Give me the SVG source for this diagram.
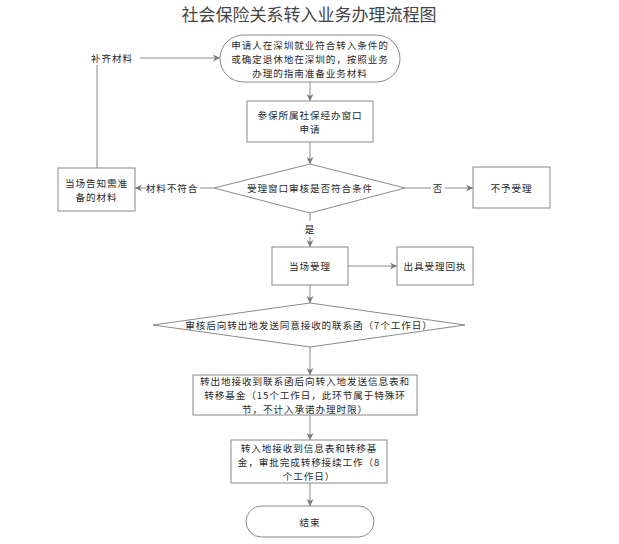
<svg xmlns="http://www.w3.org/2000/svg" width="619" height="544" viewBox="0 0 619 544">
<style>
.n{fill:#fff;stroke:#8a8a8a;stroke-width:1}
.t{font-family:"Noto Sans CJK SC","Liberation Sans",sans-serif;font-size:9.6px;letter-spacing:0.9px;fill:#2a2a2a;text-anchor:middle;dominant-baseline:central}
.title{font-family:"Noto Sans CJK SC","Liberation Sans",sans-serif;font-size:17px;fill:#444;text-anchor:middle;dominant-baseline:central}
.c{fill:none;stroke:#8a8a8a;stroke-width:1}
.a{marker-end:url(#ah)}
</style>
<defs>
<marker id="ah" viewBox="0 0 10 10" refX="10" refY="5" markerWidth="7" markerHeight="7" markerUnits="userSpaceOnUse" orient="auto">
<path d="M0,0 L10,5 L0,10 L3,5 Z" fill="#7a7a7a"/>
</marker>
</defs>
<rect width="619" height="544" fill="#fff"/>
<text class="title" x="309" y="13">社会保险关系转入业务办理流程图</text>

<g id="connectors">
<path class="c" d="M97,168 V65"/>
<path class="c a" d="M140,58 H220"/>
<text class="t" x="112" y="58">补齐材料</text>
<path class="c a" d="M310,82 V101"/>
<path class="c a" d="M310,142 V164"/>
<path class="c" d="M214,188 H200"/>
<path class="c a" d="M146,188 H135"/>
<text class="t" x="172" y="188">材料不符合</text>
<path class="c" d="M405,188 H431"/>
<path class="c a" d="M445,188 H473"/>
<text class="t" x="438" y="188">否</text>
<path class="c" d="M310,213 V221"/>
<path class="c a" d="M310,237 V247"/>
<text class="t" x="310" y="229">是</text>
<path class="c a" d="M348,266 H397"/>
<path class="c a" d="M310,285 V303"/>
<path class="c a" d="M310,347 V375"/>
<path class="c a" d="M310,415 V440"/>
<path class="c a" d="M310,483 V506"/>
</g>

<g id="start">
<rect class="n" x="220" y="35" width="180" height="47" rx="23.5" ry="23.5"/>
<text class="t" x="310" y="44.5">申请人在深圳就业符合转入条件的<tspan x="310" dy="14">或确定退休地在深圳的，按照业务</tspan><tspan x="310" dy="14">办理的指南准备业务材料</tspan></text>
</g>

<g id="apply">
<rect class="n" x="247" y="101" width="126" height="41"/>
<text class="t" x="310" y="115">参保所属社保经办窗口<tspan x="310" dy="14">申请</tspan></text>
</g>

<g id="check">
<polygon class="n" points="214,188 310,164 405,188 310,213"/>
<text class="t" x="310" y="188">受理窗口审核是否符合条件</text>
</g>

<g id="inform">
<rect class="n" x="58" y="168" width="77" height="43"/>
<text class="t" x="96.5" y="182.5">当场告知需准<tspan x="96.5" dy="14">备的材料</tspan></text>
</g>

<g id="reject">
<rect class="n" x="473" y="167" width="77" height="41"/>
<text class="t" x="511.5" y="188">不予受理</text>
</g>

<g id="accept">
<rect class="n" x="272" y="247" width="76" height="38"/>
<text class="t" x="310" y="266">当场受理</text>
</g>

<g id="receipt">
<rect class="n" x="397" y="247" width="76" height="38"/>
<text class="t" x="435" y="266">出具受理回执</text>
</g>

<g id="letter">
<polygon class="n" points="153,325 310,303 465,325 310,347"/>
<text class="t" x="309" y="325">审核后向转出地发送同意接收的联系函（7个工作日）</text>
</g>

<g id="transfer-out">
<rect class="n" x="193" y="375" width="224" height="40"/>
<text class="t" x="305" y="381">转出地接收到联系函后向转入地发送信息表和<tspan x="305" dy="14">转移基金（15个工作日，此环节属于特殊环</tspan><tspan x="305" dy="14">节，不计入承诺办理时限）</tspan></text>
</g>

<g id="transfer-in">
<rect class="n" x="231" y="440" width="156" height="43"/>
<text class="t" x="309" y="447.5">转入地接收到信息表和转移基<tspan x="309" dy="14">金，审批完成转移接续工作（8</tspan><tspan x="309" dy="14">个工作日）</tspan></text>
</g>

<g id="end">
<rect class="n" x="246" y="506" width="128" height="31" rx="15.5" ry="15.5"/>
<text class="t" x="310" y="521.5">结束</text>
</g>
</svg>
